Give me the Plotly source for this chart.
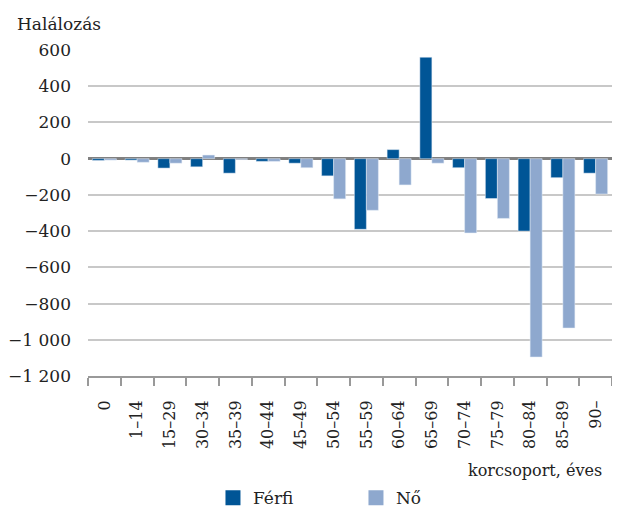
import plotly.graph_objects as go

# Age groups (korcsoport)
korcsoport = ['0', '1–14', '15–29', '30–34', '35–39', '40–44', '45–49', '50–54',
              '55–59', '60–64', '65–69', '70–74', '75–79', '80–84', '85–89', '90–']

# Change in deaths by sex
ferfi = [-10, -8, -52, -45, -80, -15, -25, -95, -390, 50, 560, -50, -220, -400, -105, -80]
no = [-8, -20, -25, 20, -5, -15, -50, -222, -285, -145, -25, -410, -330, -1095, -935, -195]

# Y axis ticks
y_vals = [600, 400, 200, 0, -200, -400, -600, -800, -1000, -1200]
y_text = ['600', '400', '200', '0', '−200', '−400', '−600', '−800', '−1 000', '−1 200']

FONT = 'DejaVu Serif'
DARK = '#005596'
LIGHT = '#8EA8CE'

fig = go.Figure()
fig.add_trace(go.Bar(x=korcsoport, y=ferfi, name='Férfi', marker_color=DARK, showlegend=False))
fig.add_trace(go.Bar(x=korcsoport, y=no, name='Nő', marker_color=LIGHT, showlegend=False))
# legend entries with bigger square swatches
for name, col in [('Férfi', DARK), ('Nő', LIGHT)]:
    fig.add_trace(go.Scatter(x=[None], y=[None], mode='markers', name=name,
                             marker=dict(symbol='square', size=15, color=col)))

# page body has an 8px margin, so the figure is 8px smaller and offset
fig.update_layout(
    width=612, height=501,
    margin=dict(l=80, r=8, t=42, b=133, autoexpand=False),
    paper_bgcolor='white', plot_bgcolor='white',
    font=dict(family=FONT, size=17, color='#222'),
    barmode='group', bargap=0.267, bargroupgap=0,
    showlegend=True,
    legend=dict(orientation='h', x=0.2385, xanchor='left', y=-0.375, yanchor='middle',
                entrywidth=98, entrywidthmode='pixels',
                font=dict(family=FONT, size=17, color='#222')),
    xaxis=dict(type='category', showgrid=False, showline=True, linecolor='#999',
               linewidth=2, ticks='outside', tickson='boundaries', ticklen=8,
               tickcolor='#999', tickwidth=2, tickangle=-90, ticklabelstandoff=16,
               tickfont=dict(family=FONT, size=16)),
    yaxis=dict(range=[-1200, 600], tickvals=y_vals, ticktext=y_text,
               showgrid=True, gridcolor='#c8c8c8', gridwidth=2,
               zeroline=True, zerolinecolor='#808080', zerolinewidth=3,
               ticks='', ticklabelstandoff=16,
               tickfont=dict(family=FONT, size=17)),
    annotations=[
        dict(text='Halálozás', xref='paper', yref='paper', x=-0.14, y=1.08,
             xanchor='left', yanchor='middle', showarrow=False,
             font=dict(family=FONT, size=17)),
        dict(text='korcsoport, éves', xref='paper', yref='paper', x=0.985, y=-0.29,
             xanchor='right', yanchor='middle', showarrow=False,
             font=dict(family=FONT, size=16)),
    ],
)

fig.write_html('out.html')
